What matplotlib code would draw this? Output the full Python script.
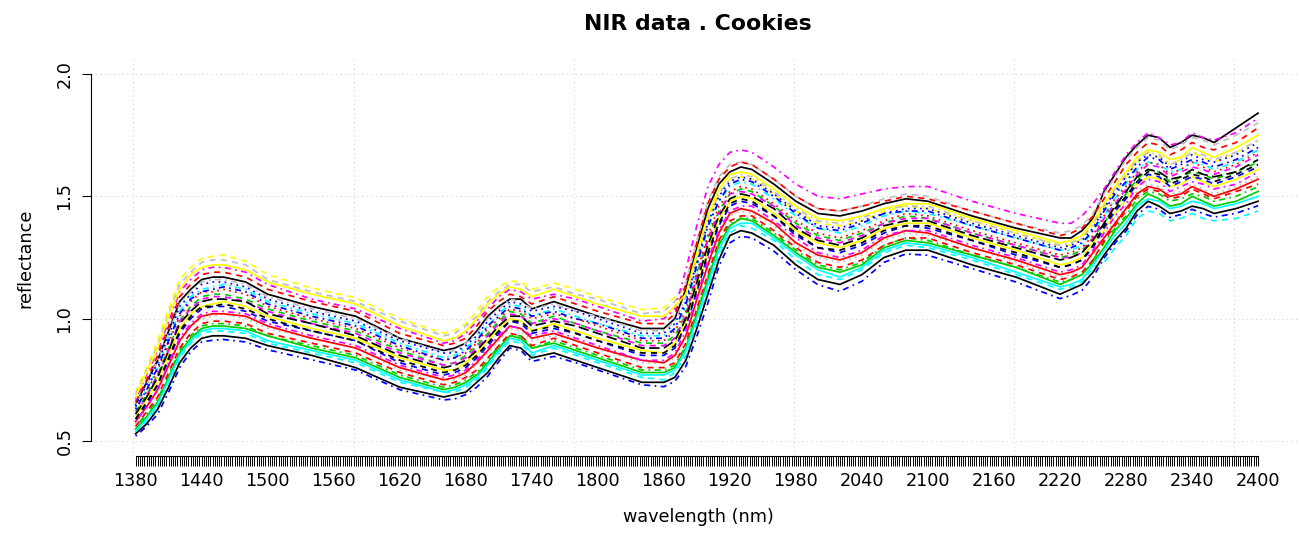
import numpy as np
import matplotlib.pyplot as plt

wavelength = [1380, 1390, 1400, 1410, 1420, 1430, 1440, 1450, 1460, 1480, 1500, 1540, 1580, 1620,
              1660, 1670, 1680, 1690, 1700, 1710, 1720, 1730, 1740, 1760, 1780, 1800, 1840, 1860, 1870,
              1880, 1890, 1900, 1910, 1920, 1930, 1940, 1960, 1980, 2000, 2020, 2040, 2060, 2080,
              2100, 2140, 2180, 2220, 2230, 2240, 2250,
              2260, 2270, 2280, 2290, 2300, 2310, 2320, 2330, 2340, 2350, 2360, 2380, 2400]

# reflectance of the individual cookie samples
s01 = [.52, .56, .61, .70, .80, .865, .905, .912, .915, .905, .873, .832, .79, .71, .668, .672, .69, .72, .765, .825, .88, .87, .825, .846, .82, .79, .73, .722, .744,
       .805, .928, 1.064, 1.214, 1.31, 1.337, 1.33, 1.276, 1.20, 1.139, 1.112, 1.153, 1.23, 1.265, 1.259, 1.205, 1.15, 1.082, 1.095, 1.116, 1.17,
       1.248, 1.309, 1.358, 1.425, 1.459, 1.447, 1.414, 1.426, 1.447, 1.43, 1.415, 1.431, 1.462]
s02 = [.53, .57, .63, .72, .82, .88, .92, .93, .93, .92, .89, .85, .80, .72, .68, .69, .70, .74, .78, .84, .89, .88, .84, .86, .83, .80, .74, .74, .76,
       .83, .96, 1.10, 1.24, 1.34, 1.36, 1.35, 1.30, 1.22, 1.16, 1.14, 1.18, 1.25, 1.28, 1.28, 1.22, 1.17, 1.10, 1.12, 1.14, 1.19,
       1.26, 1.32, 1.37, 1.44, 1.48, 1.46, 1.43, 1.44, 1.46, 1.45, 1.43, 1.45, 1.48]
s03 = [.54, .58, .64, .73, .84, .90, .94, .95, .95, .94, .90, .86, .82, .74, .70, .70, .72, .75, .80, .86, .91, .90, .85, .88, .85, .82, .76, .75, .78,
       .85, .98, 1.12, 1.26, 1.35, 1.38, 1.37, 1.32, 1.24, 1.18, 1.16, 1.20, 1.27, 1.30, 1.29, 1.24, 1.18, 1.12, 1.13, 1.15, 1.21,
       1.23, 1.29, 1.34, 1.41, 1.44, 1.43, 1.40, 1.41, 1.43, 1.41, 1.40, 1.41, 1.44]
s04 = [.55, .60, .66, .76, .86, .92, .96, .97, .97, .96, .93, .88, .84, .76, .71, .72, .74, .77, .82, .88, .93, .92, .88, .90, .87, .84, .78, .78, .80,
       .88, 1.02, 1.16, 1.30, 1.38, 1.41, 1.40, 1.34, 1.27, 1.21, 1.19, 1.22, 1.29, 1.32, 1.31, 1.26, 1.21, 1.14, 1.16, 1.18, 1.23,
       1.29, 1.36, 1.41, 1.47, 1.51, 1.49, 1.46, 1.47, 1.50, 1.48, 1.46, 1.48, 1.52]
s05 = [.56, .62, .68, .78, .88, .94, .98, .99, .99, .98, .94, .90, .86, .78, .73, .74, .76, .79, .84, .89, .94, .93, .89, .92, .89, .86, .80, .80, .82,
       .90, 1.04, 1.18, 1.32, 1.40, 1.42, 1.42, 1.36, 1.29, 1.23, 1.21, 1.24, 1.30, 1.33, 1.33, 1.27, 1.22, 1.16, 1.17, 1.19, 1.24,
       1.32, 1.38, 1.44, 1.50, 1.53, 1.52, 1.49, 1.50, 1.53, 1.51, 1.49, 1.52, 1.55]
s06 = [.57, .63, .70, .80, .90, .97, 1.00, 1.01, 1.02, 1.00, .96, .92, .88, .79, .75, .75, .77, .81, .86, .91, .96, .95, .91, .93, .91, .88, .82, .82, .84,
       .92, 1.06, 1.21, 1.34, 1.42, 1.44, 1.43, 1.38, 1.30, 1.25, 1.23, 1.26, 1.32, 1.35, 1.34, 1.29, 1.23, 1.17, 1.18, 1.21, 1.26,
       1.34, 1.40, 1.46, 1.52, 1.55, 1.54, 1.51, 1.52, 1.55, 1.53, 1.51, 1.54, 1.58]
s07 = [.58, .64, .71, .82, .92, .98, 1.02, 1.03, 1.03, 1.02, .98, .93, .89, .81, .76, .77, .79, .83, .88, .93, .97, .96, .93, .95, .92, .89, .83, .83, .86,
       .95, 1.09, 1.24, 1.36, 1.44, 1.46, 1.46, 1.40, 1.33, 1.27, 1.25, 1.28, 1.34, 1.36, 1.36, 1.30, 1.25, 1.19, 1.20, 1.22, 1.28,
       1.35, 1.42, 1.47, 1.54, 1.57, 1.56, 1.52, 1.54, 1.56, 1.55, 1.53, 1.55, 1.60]
s08 = [.59, .65, .73, .83, .94, 1.00, 1.04, 1.05, 1.05, 1.03, .99, .95, .91, .82, .77, .78, .80, .84, .89, .94, .99, .98, .94, .96, .94, .91, .85, .85, .88,
       .97, 1.11, 1.26, 1.38, 1.46, 1.48, 1.47, 1.42, 1.34, 1.29, 1.27, 1.30, 1.35, 1.38, 1.37, 1.32, 1.26, 1.21, 1.22, 1.24, 1.29,
       1.37, 1.44, 1.49, 1.55, 1.59, 1.58, 1.54, 1.56, 1.58, 1.57, 1.55, 1.58, 1.62]
s09 = [.60, .67, .74, .85, .96, 1.02, 1.05, 1.06, 1.07, 1.05, 1.01, .96, .92, .84, .79, .79, .82, .86, .91, .96, 1.00, .99, .95, .98, .95, .92, .87, .86, .90,
       .99, 1.13, 1.28, 1.41, 1.48, 1.50, 1.49, 1.43, 1.36, 1.31, 1.29, 1.32, 1.37, 1.39, 1.39, 1.33, 1.28, 1.22, 1.23, 1.25, 1.31,
       1.36, 1.43, 1.49, 1.55, 1.58, 1.57, 1.54, 1.55, 1.58, 1.56, 1.54, 1.57, 1.61]
s10 = [.61, .68, .76, .87, .98, 1.03, 1.07, 1.08, 1.08, 1.07, 1.02, .98, .93, .85, .80, .81, .83, .87, .92, .97, 1.01, 1.01, .97, .99, .97, .94, .88, .88, .91,
       1.00, 1.15, 1.30, 1.42, 1.49, 1.51, 1.50, 1.45, 1.37, 1.32, 1.30, 1.33, 1.38, 1.40, 1.40, 1.34, 1.29, 1.24, 1.25, 1.27, 1.32,
       1.39, 1.46, 1.52, 1.58, 1.61, 1.60, 1.57, 1.58, 1.61, 1.59, 1.58, 1.60, 1.65]
s11 = [.62, .69, .77, .88, .99, 1.05, 1.09, 1.10, 1.10, 1.08, 1.04, .99, .95, .87, .81, .82, .85, .89, .94, .99, 1.03, 1.02, .98, 1.01, .98, .95, .90, .90, .93,
       1.02, 1.18, 1.33, 1.44, 1.51, 1.53, 1.52, 1.46, 1.39, 1.34, 1.32, 1.35, 1.39, 1.42, 1.41, 1.35, 1.30, 1.25, 1.26, 1.28, 1.33,
       1.39, 1.46, 1.51, 1.57, 1.61, 1.60, 1.56, 1.58, 1.60, 1.59, 1.57, 1.60, 1.64]
s12 = [.63, .70, .79, .90, 1.01, 1.07, 1.11, 1.11, 1.12, 1.10, 1.05, 1.00, .96, .88, .83, .84, .86, .90, .96, 1.00, 1.04, 1.03, 1.00, 1.02, 1.00, .97, .91, .91, .95,
       1.03, 1.19, 1.34, 1.46, 1.52, 1.54, 1.53, 1.47, 1.40, 1.35, 1.33, 1.36, 1.40, 1.43, 1.42, 1.36, 1.31, 1.26, 1.27, 1.29, 1.34,
       1.42, 1.49, 1.54, 1.60, 1.64, 1.63, 1.59, 1.61, 1.64, 1.62, 1.60, 1.63, 1.68]
s13 = [.64, .71, .80, .92, 1.03, 1.09, 1.12, 1.13, 1.14, 1.12, 1.07, 1.02, .98, .90, .84, .85, .88, .92, .97, 1.02, 1.06, 1.05, 1.01, 1.04, 1.01, .98, .93, .93, .96,
       1.05, 1.21, 1.37, 1.48, 1.54, 1.56, 1.55, 1.49, 1.42, 1.37, 1.35, 1.38, 1.42, 1.44, 1.43, 1.38, 1.33, 1.28, 1.28, 1.30, 1.36,
       1.42, 1.49, 1.55, 1.61, 1.64, 1.63, 1.60, 1.61, 1.64, 1.63, 1.61, 1.64, 1.69]
s14 = [.64, .73, .82, .93, 1.05, 1.10, 1.14, 1.15, 1.15, 1.13, 1.08, 1.03, .99, .91, .86, .86, .89, .93, .99, 1.03, 1.07, 1.06, 1.03, 1.05, 1.03, 1.00, .94, .94, .98,
       1.07, 1.23, 1.39, 1.50, 1.56, 1.58, 1.57, 1.51, 1.44, 1.38, 1.37, 1.40, 1.43, 1.45, 1.45, 1.39, 1.34, 1.29, 1.30, 1.32, 1.37,
       1.45, 1.52, 1.58, 1.64, 1.67, 1.66, 1.62, 1.64, 1.67, 1.65, 1.64, 1.67, 1.72]
s15 = [.65, .74, .83, .95, 1.07, 1.12, 1.16, 1.17, 1.17, 1.15, 1.10, 1.05, 1.01, .92, .87, .88, .90, .95, 1.01, 1.05, 1.08, 1.08, 1.04, 1.07, 1.04, 1.01, .96, .96, 1.00,
       1.12, 1.29, 1.45, 1.55, 1.60, 1.62, 1.61, 1.55, 1.48, 1.43, 1.42, 1.44, 1.47, 1.49, 1.48, 1.42, 1.37, 1.33, 1.33, 1.36, 1.41,
       1.52, 1.59, 1.66, 1.71, 1.75, 1.74, 1.70, 1.72, 1.75, 1.74, 1.72, 1.78, 1.84]
s16 = [.67, .77, .87, .99, 1.11, 1.16, 1.20, 1.21, 1.21, 1.19, 1.14, 1.08, 1.04, .96, .90, .91, .94, .99, 1.04, 1.09, 1.12, 1.11, 1.08, 1.10, 1.08, 1.05, .99, 1.00, 1.04,
       1.20, 1.38, 1.54, 1.63, 1.68, 1.69, 1.68, 1.62, 1.55, 1.50, 1.49, 1.51, 1.53, 1.54, 1.54, 1.48, 1.43, 1.39, 1.39, 1.42, 1.47,
       1.53, 1.60, 1.67, 1.72, 1.76, 1.74, 1.71, 1.72, 1.76, 1.74, 1.73, 1.76, 1.82]
s17 = [.68, .78, .88, 1.01, 1.12, 1.18, 1.21, 1.22, 1.22, 1.20, 1.15, 1.10, 1.06, .97, .91, .92, .95, 1.00, 1.06, 1.10, 1.13, 1.12, 1.09, 1.12, 1.09, 1.06, 1.01, 1.01, 1.05,
       1.10, 1.27, 1.42, 1.53, 1.59, 1.60, 1.59, 1.53, 1.46, 1.41, 1.40, 1.42, 1.45, 1.47, 1.47, 1.41, 1.36, 1.31, 1.32, 1.34, 1.40,
       1.47, 1.54, 1.60, 1.66, 1.69, 1.68, 1.65, 1.66, 1.70, 1.68, 1.66, 1.70, 1.75]
s18 = [.70, .80, .91, 1.04, 1.16, 1.21, 1.245, 1.255, 1.26, 1.235, 1.18, 1.125, 1.085, 1.00, .94, .952, .98, 1.03, 1.09, 1.13, 1.155, 1.15, 1.12, 1.146, 1.12, 1.09, 1.037, 1.044, 1.09,
       1.12, 1.24, 1.40, 1.51, 1.57, 1.58, 1.57, 1.51, 1.44, 1.39, 1.38, 1.40, 1.44, 1.46, 1.45, 1.40, 1.35, 1.30, 1.30, 1.33, 1.38,
       1.45, 1.52, 1.58, 1.64, 1.68, 1.66, 1.63, 1.65, 1.68, 1.66, 1.64, 1.68, 1.73]
s19 = [.69, .79, .89, 1.02, 1.14, 1.19, 1.23, 1.24, 1.24, 1.22, 1.16, 1.11, 1.07, .99, .93, .94, .97, 1.01, 1.07, 1.11, 1.14, 1.14, 1.11, 1.13, 1.10, 1.08, 1.02, 1.03, 1.07,
       1.15, 1.32, 1.48, 1.58, 1.63, 1.64, 1.63, 1.57, 1.50, 1.45, 1.44, 1.46, 1.49, 1.51, 1.50, 1.44, 1.39, 1.35, 1.36, 1.38, 1.43,
       1.51, 1.58, 1.65, 1.70, 1.74, 1.73, 1.69, 1.71, 1.74, 1.73, 1.71, 1.75, 1.80]
s20 = [.54, .59, .65, .75, .85, .91, .95, .96, .96, .95, .91, .87, .83, .75, .70, .71, .73, .76, .81, .87, .92, .91, .86, .89, .86, .83, .77, .77, .79,
       .87, 1.00, 1.14, 1.28, 1.37, 1.39, 1.39, 1.33, 1.26, 1.20, 1.17, 1.21, 1.28, 1.31, 1.30, 1.25, 1.19, 1.13, 1.14, 1.16, 1.22,
       1.28, 1.34, 1.39, 1.46, 1.49, 1.48, 1.45, 1.46, 1.48, 1.47, 1.45, 1.47, 1.50]
s21 = [.56, .61, .67, .77, .87, .93, .97, .98, .98, .97, .93, .89, .85, .77, .72, .73, .75, .78, .83, .89, .93, .93, .88, .91, .88, .85, .79, .79, .81,
       .89, 1.03, 1.17, 1.31, 1.39, 1.41, 1.41, 1.35, 1.28, 1.22, 1.20, 1.23, 1.30, 1.33, 1.32, 1.26, 1.21, 1.15, 1.16, 1.18, 1.24,
       1.31, 1.37, 1.42, 1.49, 1.52, 1.51, 1.48, 1.49, 1.51, 1.50, 1.48, 1.50, 1.54]
s22 = [.58, .64, .71, .81, .91, .97, 1.01, 1.02, 1.02, 1.01, .97, .92, .88, .80, .75, .76, .78, .82, .87, .92, .97, .96, .92, .94, .91, .88, .83, .82, .85,
       .93, 1.08, 1.22, 1.35, 1.43, 1.45, 1.44, 1.39, 1.31, 1.26, 1.24, 1.27, 1.33, 1.36, 1.35, 1.29, 1.24, 1.18, 1.19, 1.21, 1.27,
       1.33, 1.39, 1.45, 1.51, 1.54, 1.53, 1.50, 1.51, 1.54, 1.52, 1.50, 1.53, 1.57]
s23 = [.59, .66, .73, .84, .95, 1.01, 1.05, 1.05, 1.06, 1.04, 1.00, .95, .91, .83, .78, .79, .81, .85, .90, .95, .99, .99, .95, .97, .94, .91, .86, .86, .89,
       .97, 1.12, 1.27, 1.39, 1.47, 1.49, 1.48, 1.42, 1.35, 1.29, 1.28, 1.31, 1.36, 1.38, 1.38, 1.32, 1.27, 1.21, 1.22, 1.24, 1.30,
       1.38, 1.45, 1.50, 1.56, 1.60, 1.59, 1.55, 1.57, 1.59, 1.58, 1.56, 1.59, 1.63]
s24 = [.61, .68, .77, .87, .99, 1.04, 1.08, 1.09, 1.09, 1.07, 1.03, .98, .94, .86, .81, .82, .84, .88, .93, .98, 1.02, 1.01, .98, 1.00, .98, .95, .89, .89, .92,
       1.01, 1.17, 1.32, 1.43, 1.51, 1.52, 1.51, 1.46, 1.38, 1.33, 1.31, 1.34, 1.39, 1.41, 1.41, 1.35, 1.30, 1.25, 1.25, 1.27, 1.33,
       1.41, 1.47, 1.53, 1.59, 1.63, 1.62, 1.58, 1.60, 1.62, 1.61, 1.59, 1.62, 1.67]
s25 = [.63, .71, .80, .91, 1.02, 1.08, 1.11, 1.12, 1.13, 1.11, 1.06, 1.01, .97, .89, .83, .84, .87, .91, .97, 1.01, 1.05, 1.04, 1.01, 1.03, 1.00, .98, .92, .92, .96,
       1.06, 1.22, 1.38, 1.48, 1.55, 1.57, 1.56, 1.50, 1.43, 1.37, 1.36, 1.39, 1.43, 1.44, 1.44, 1.38, 1.33, 1.28, 1.29, 1.31, 1.36,
       1.44, 1.51, 1.56, 1.62, 1.66, 1.65, 1.61, 1.63, 1.65, 1.64, 1.62, 1.65, 1.70]
s26 = [.65, .73, .83, .94, 1.06, 1.11, 1.15, 1.16, 1.16, 1.14, 1.09, 1.04, 1.00, .92, .86, .87, .90, .94, 1.00, 1.04, 1.08, 1.07, 1.04, 1.06, 1.03, 1.01, .95, .95, .99,
       1.09, 1.25, 1.41, 1.51, 1.57, 1.59, 1.58, 1.52, 1.45, 1.40, 1.39, 1.41, 1.45, 1.46, 1.46, 1.40, 1.35, 1.30, 1.31, 1.33, 1.39,
       1.46, 1.53, 1.59, 1.65, 1.68, 1.67, 1.63, 1.65, 1.68, 1.67, 1.65, 1.68, 1.73]
s27 = [.66, .75, .85, .97, 1.09, 1.14, 1.18, 1.19, 1.19, 1.17, 1.12, 1.07, 1.03, .94, .89, .90, .92, .97, 1.03, 1.07, 1.10, 1.09, 1.06, 1.09, 1.06, 1.03, .98, .98, 1.02,
       1.14, 1.31, 1.47, 1.57, 1.62, 1.64, 1.63, 1.57, 1.50, 1.45, 1.44, 1.46, 1.48, 1.50, 1.49, 1.44, 1.39, 1.34, 1.35, 1.37, 1.42,
       1.49, 1.56, 1.63, 1.68, 1.72, 1.71, 1.67, 1.69, 1.72, 1.70, 1.69, 1.72, 1.78]

x_labels = list(range(1380, 2401, 60))
y_labels = [0.5, 1.0, 1.5, 2.0]

# R-like colours and line types
solid = '-'
dashed = (0, (3.5, 3))
dotted = (0, (1, 2.5))
dotdash = (0, (1, 2.5, 3.5, 2.5))
longdash = (0, (6, 2.5))
green = '#00CD00'
gray = '#BEBEBE'

# drawing order mixed, like matplot's columns
samples = [
    (s18, 'yellow', dashed), (s03, 'cyan', dashed), (s11, green, dashed), (s06, gray, dotted),
    (s24, 'magenta', dashed), (s01, 'blue', dotdash), (s15, 'black', solid), (s21, green, dotdash),
    (s09, 'yellow', solid), (s13, 'cyan', dotdash), (s26, gray, dotdash), (s05, 'red', dashed),
    (s19, gray, dashed), (s22, 'red', solid), (s08, 'blue', dashed), (s27, 'red', dashed),
    (s16, 'magenta', dotdash), (s02, 'black', solid), (s12, 'red', dotted), (s23, 'black', dashed),
    (s07, 'magenta', dotdash), (s17, 'yellow', solid), (s10, 'black', longdash), (s25, 'blue', dotdash),
    (s14, 'blue', dotted), (s04, green, solid), (s20, 'cyan', solid),
]

plt.rcParams['font.family'] = 'DejaVu Sans'

fig = plt.figure(figsize=(13, 5.35), dpi=100)
ax = fig.add_axes([0.0698, 0.1482, 0.9325, 0.7409])

# dotted grid like R's grid()
for gx in [1378, 1578, 1778, 1978, 2178, 2378]:
    ax.axvline(gx, color='#D3D3D3', lw=0.8, ls=(0, (1, 3)), zorder=0)
for gy in y_labels:
    ax.axhline(gy, color='#D3D3D3', lw=0.8, ls=(0, (1, 3)), zorder=0)

for spec, col, ls in samples:
    ax.plot(wavelength, spec, color=col, ls=ls, lw=1.25)

ax.set_xlim(1339.2, 2440.8)
ax.set_ylim(0.44, 2.06)

for s in ['top', 'right']:
    ax.spines[s].set_visible(False)
ax.spines['left'].set_bounds(0.5, 2.0)
ax.spines['bottom'].set_bounds(1380, 2400)
ax.spines['left'].set_linewidth(0.8)
ax.spines['bottom'].set_linewidth(0.8)

ax.set_xticks(np.arange(1380, 2401, 2), minor=True)
ax.set_xticks(x_labels)
ax.set_xticklabels([str(v) for v in x_labels])
ax.tick_params(axis='x', which='both', length=7, width=0.7, pad=5, labelsize=12.7)
ax.set_yticks(y_labels)
ax.set_yticklabels(['%.1f' % v for v in y_labels])
ax.tick_params(axis='y', length=6.5, width=0.8, pad=6, labelsize=12.7)
for lab in ax.get_yticklabels():
    lab.set_rotation(90)
    lab.set_va('center')
    lab.set_ha('right')

fig.text(0.5365, 1 - 30 / 535, 'NIR data . Cookies', ha='center', va='baseline',
         fontsize=15.8, fontweight='bold')
fig.text(698 / 1300, 13.5 / 535, 'wavelength (nm)', ha='center', va='baseline', fontsize=12.7)
fig.text(34 / 1300, 1 - 258 / 535, 'reflectance', ha='right', va='center', rotation=90,
         fontsize=12.7)

fig.savefig('out.png', dpi=100)
